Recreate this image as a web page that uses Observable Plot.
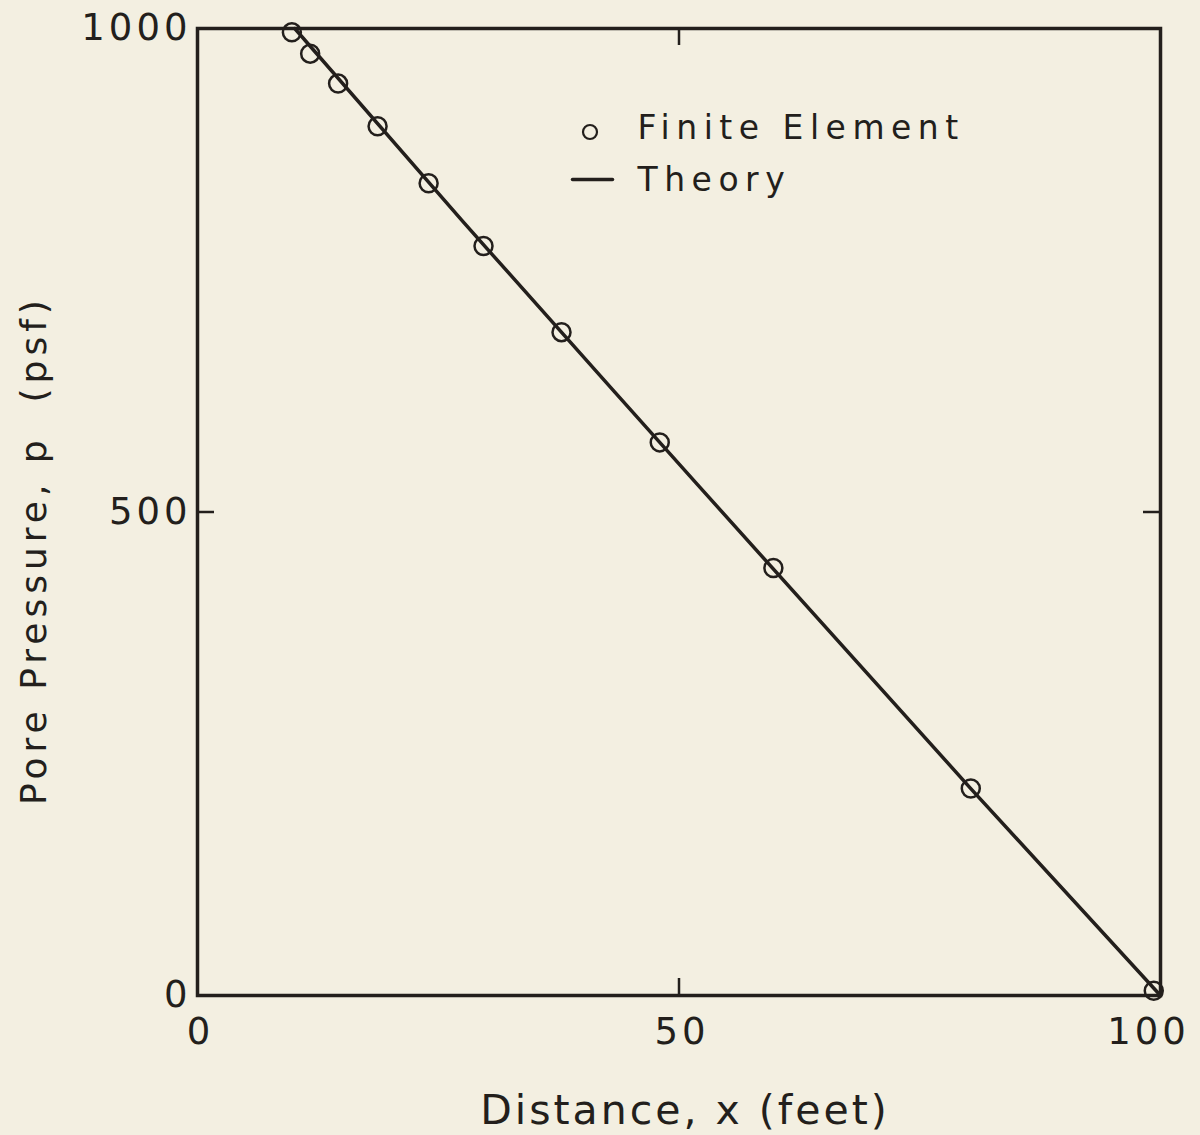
<!DOCTYPE html>
<html><head><meta charset="utf-8">
<script src="https://cdn.jsdelivr.net/npm/d3@7"></script>
<script src="https://cdn.jsdelivr.net/npm/@observablehq/plot@0.6"></script>
<style>
html,body{margin:0;padding:0;background:#f3efe1;}
#chart svg{display:block;}
</style></head><body><div id="chart"></div>
<script>
// Finite element results
const feDistance = [9.8, 11.7, 14.6, 18.7, 24.0, 29.7, 37.8, 48.0, 59.8, 80.3, 99.3];
const fePressure = [996, 974, 943, 899, 840, 775, 686, 572, 442, 214, 5];
// Theory curve
const theoryDistance = [10.1, 27.5, 48.0, 80.3, 100];
const theoryPressure = [1000, 801, 572, 214, 0];
// Axes
const xTickValues = [0, 50];
const xLastTick = [100];
const yTickValues = [0, 500, 1000];
const xInnerTicks = [50];
const yInnerTicks = [500];
const legendLabels = ["Finite Element", "Theory"];
const xTitle = "Distance, x (feet)";
const yTitle = "Pore Pressure, p\u00a0\u00a0(psf)";

const fe = feDistance.map((x, i) => ({x, p: fePressure[i]}));
const theory = theoryDistance.map((x, i) => ({x, p: theoryPressure[i]}));

const W = 1200, H = 1135, mL = 197, mR = 40, mT = 28, mB = 140;
const innerW = W - mL - mR, innerH = H - mT - mB;
const tickLen = 17;
const ink = "#231f1c";
const bg = "#f3efe1";
const font = "'DejaVu Sans', sans-serif";

const dashShape = {draw(context, l) { context.moveTo(0, 0); context.lineTo(0, -l); }};

const chart = Plot.plot({
  width: W, height: H,
  marginLeft: mL, marginRight: mR, marginTop: mT, marginBottom: mB,
  x: {domain: [0, 100]},
  y: {domain: [0, 1000]},
  style: {background: bg, fontFamily: font, color: ink, overflow: "visible"},
  marks: [
    Plot.frame({stroke: ink, strokeWidth: 3.5}),
    Plot.tickX(xInnerTicks, {x: d => d, insetTop: innerH - tickLen, stroke: ink, strokeWidth: 2.5}),
    Plot.tickX(xInnerTicks, {x: d => d, insetBottom: innerH - tickLen, stroke: ink, strokeWidth: 2.5}),
    Plot.tickY(yInnerTicks, {y: d => d, insetRight: innerW - tickLen, stroke: ink, strokeWidth: 2.5}),
    Plot.tickY(yInnerTicks, {y: d => d, insetLeft: innerW - tickLen, stroke: ink, strokeWidth: 2.5}),
    Plot.line(theory, {x: "x", y: "p", stroke: ink, strokeWidth: 3.5, curve: "monotone-x"}),
    Plot.dot(fe, {x: "x", y: "p", r: 9, stroke: ink, strokeWidth: 2.5, fill: "none"}),
    Plot.axisX(xTickValues, {anchor: "bottom", tickSize: 0, tickPadding: 22, fontSize: 37, dx: 3, label: null, tickFormat: d => String(d)}),
    Plot.axisX(xLastTick, {anchor: "bottom", tickSize: 0, tickPadding: 22, fontSize: 37, dx: -12, label: null, tickFormat: d => String(d)}),
    Plot.axisY(yTickValues, {anchor: "left", tickSize: 0, tickPadding: 6, fontSize: 37, label: null, tickFormat: d => String(d)}),
    Plot.text([xTitle], {text: d => d, frameAnchor: "bottom", textAnchor: "middle", lineAnchor: "bottom", dy: 128, dx: 6, fontSize: 41, fill: ink, ariaDescription: "xtitle"}),
    Plot.text([yTitle], {text: d => d, frameAnchor: "left", textAnchor: "middle", lineAnchor: "bottom", rotate: -90, dx: -152, dy: 38, fontSize: 36, fill: ink, ariaDescription: "ytitle"}),
    // legend
    Plot.dot([legendLabels[0]], {frameAnchor: "top-left", dx: 392.5, dy: 103.5, r: 7, stroke: ink, strokeWidth: 2.2, fill: "none"}),
    Plot.vector([legendLabels[1]], {frameAnchor: "top-left", dx: 375, dy: 151, length: 40, rotate: 90, anchor: "start", shape: dashShape, stroke: ink, strokeWidth: 3.5}),
    Plot.text([legendLabels[0]], {text: d => d, frameAnchor: "top-left", textAnchor: "start", lineAnchor: "bottom", dx: 440, dy: 110, fontSize: 33, fill: ink, ariaDescription: "legend"}),
    Plot.text([legendLabels[1]], {text: d => d, frameAnchor: "top-left", textAnchor: "start", lineAnchor: "bottom", dx: 440, dy: 162, fontSize: 33, fill: ink, ariaDescription: "legend"})
  ]
});
document.getElementById("chart").appendChild(chart);

// styling: letter spacing like the plotter lettering
const svg = d3.select(chart);
svg.selectAll('[aria-label="x-axis tick label"] text, [aria-label="y-axis tick label"] text').style("letter-spacing", "4px");
svg.selectAll('[aria-description="xtitle"] text').style("letter-spacing", "3px");
svg.selectAll('[aria-description="ytitle"] text').style("letter-spacing", "5px");
svg.selectAll('[aria-description="legend"] text').style("letter-spacing", "6.5px");
</script>
</body></html>
